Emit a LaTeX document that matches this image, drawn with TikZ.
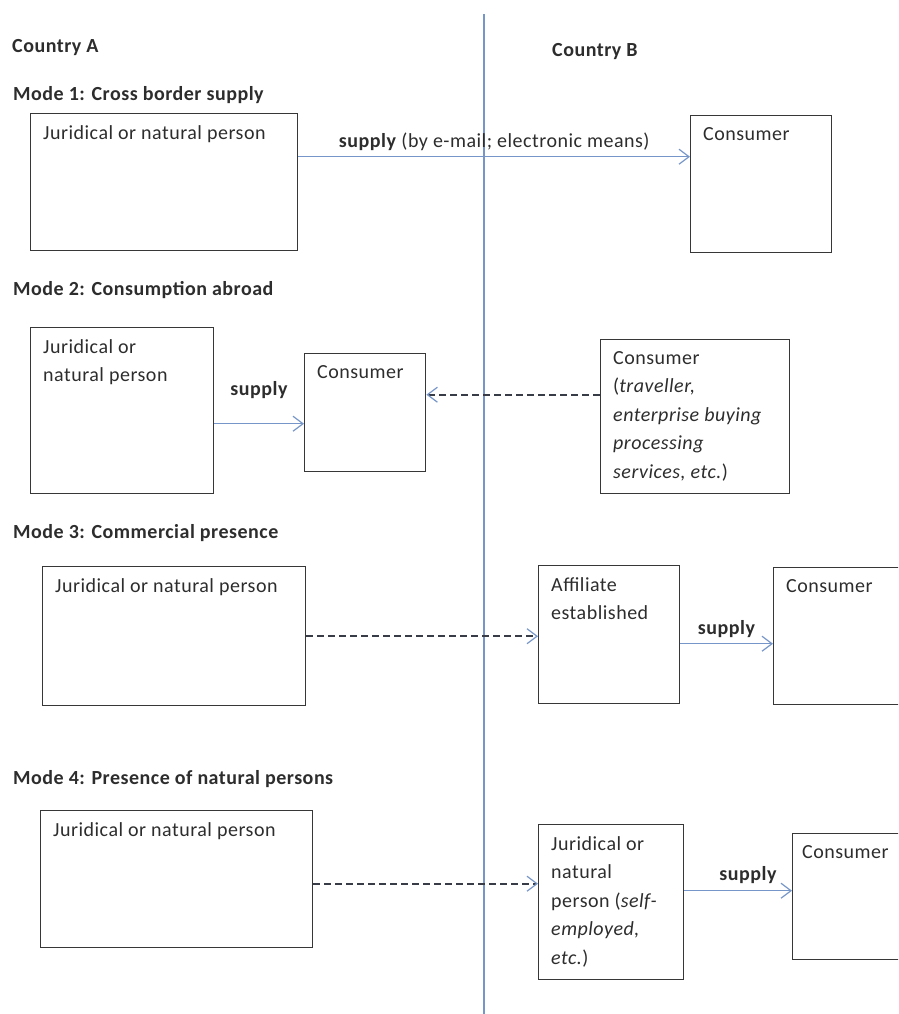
\documentclass[tikz,border=0pt]{standalone}
\usepackage{fontspec}
\setmainfont{Carlito}[LetterSpace=2.5]
\usetikzlibrary{arrows.meta}
\definecolor{flowblue}{RGB}{118,150,201}
\definecolor{boxgray}{RGB}{55,55,55}
\definecolor{dashgray}{RGB}{55,60,70}
\definecolor{textgray}{RGB}{45,45,45}

\begin{document}
\begin{tikzpicture}[x=1pt,y=-1pt,
  every node/.style={font=\fontsize{20}{28.5}\selectfont, text=textgray},
  box/.style={draw=boxgray, line width=1.4pt, anchor=north west, inner sep=0pt},
  boxtext/.style={anchor=north west, align=left, inner sep=0pt, xshift=13pt, yshift=-12pt},
  head/.style={anchor=base west, inner sep=0pt, font=\fontsize{20}{24}\selectfont\bfseries},
  flow/.style={draw=flowblue, line width=1.2pt, -{Straight Barb[length=10pt,width=15pt]}},
  link/.style={draw=dashgray, line width=1.6pt, dash pattern=on 7pt off 4pt,
    -{Straight Barb[length=10pt,width=15pt,color=flowblue,line width=1.2pt]}},
]
\useasboundingbox (0,0) rectangle (898,1014);
\clip (0,0) rectangle (898,1014);

% border between the two countries
\coordinate (top) at (484,14);
\coordinate (bot) at (484,1014);
\draw[flowblue, line width=1.3pt] (top) -- (bot);

\node[head] (ca) at (12,53) {Country A};
\node[head] (cb) at (552,57) {Country B};

% mode 1
\node[head] (m1) at (13,101) {Mode 1: Cross border supply};
\node[box, minimum width=267pt, minimum height=137pt,
  label={[boxtext]north west:{Juridical or natural person}}] (b1a) at (30,113) {};
\node[box, minimum width=141pt, minimum height=137pt,
  label={[boxtext]north west:{Consumer}}] (b1b) at (690,115) {};
\coordinate (s1) at ([yshift=25.5pt]b1a.east);
\draw[flow] (s1) -- (s1 -| b1b.west)
  node[midway, anchor=base, yshift=9pt] {\textbf{supply} (by e-mail; electronic means)};

% mode 2
\node[head] (m2) at (13,295) {Mode 2: Consumption abroad};
\node[box, minimum width=183pt, minimum height=166pt,
  label={[boxtext]north west:{Juridical or\\natural person}}] (b2a) at (30,327) {};
\node[box, minimum width=121pt, minimum height=118pt,
  label={[boxtext]north west:{Consumer}}] (b2b) at (304,353) {};
\node[box, minimum width=189pt, minimum height=154pt,
  label={[boxtext]north west:{Consumer\\(\textit{traveller,}\\\textit{enterprise buying}\\\textit{processing}\\\textit{services, etc.})}}] (b2c) at (600,339) {};
\coordinate (s2) at ([yshift=-13pt]b2a.east);
\draw[flow] (s2) -- (s2 -| b2b.west)
  node[midway, anchor=base, yshift=28pt] {\textbf{supply}};
\coordinate (d2) at ([yshift=22pt]b2c.west);
\draw[link] (d2) -- (d2 -| b2b.east);

% mode 3
\node[head] (m3) at (13,538) {Mode 3: Commercial presence};
\node[box, minimum width=263pt, minimum height=139pt,
  label={[boxtext]north west:{Juridical or natural person}}] (b3a) at (42,566) {};
\node[box, minimum width=141pt, minimum height=138pt,
  label={[boxtext]north west:{Affiliate\\established}}] (b3b) at (538,565) {};
\node[box, minimum width=150pt, minimum height=137pt,
  label={[boxtext]north west:{Consumer}}] (b3c) at (773,567) {};
\draw[link] (b3a.east) -- (b3a.east -| b3b.west);
\coordinate (s3) at ([yshift=-9pt]b3b.east);
\draw[flow] (s3) -- (s3 -| b3c.west)
  node[midway, anchor=base, yshift=9pt] {\textbf{supply}};

% mode 4
\node[head] (m4) at (13,784) {Mode 4: Presence of natural persons};
\node[box, minimum width=272pt, minimum height=137pt,
  label={[boxtext]north west:{Juridical or natural person}}] (b4a) at (40,810) {};
\node[box, minimum width=145pt, minimum height=155pt,
  label={[boxtext]north west:{Juridical or\\natural\\person (\textit{self-}\\\textit{employed,}\\\textit{etc.})}}] (b4b) at (538,824) {};
\node[box, minimum width=140pt, minimum height=126pt,
  label={[boxtext, xshift=-3pt]north west:{Consumer}}] (b4c) at (792,833) {};
\coordinate (d4) at ([yshift=-4.5pt]b4a.east);
\draw[link] (d4) -- (d4 -| b4b.west);
\coordinate (s4) at ([yshift=11.5pt]b4b.east);
\draw[flow] (s4) -- (s4 -| b4c.west)
  node[midway, anchor=base, yshift=10pt, xshift=10pt] {\textbf{supply}};
\end{tikzpicture}
\end{document}
